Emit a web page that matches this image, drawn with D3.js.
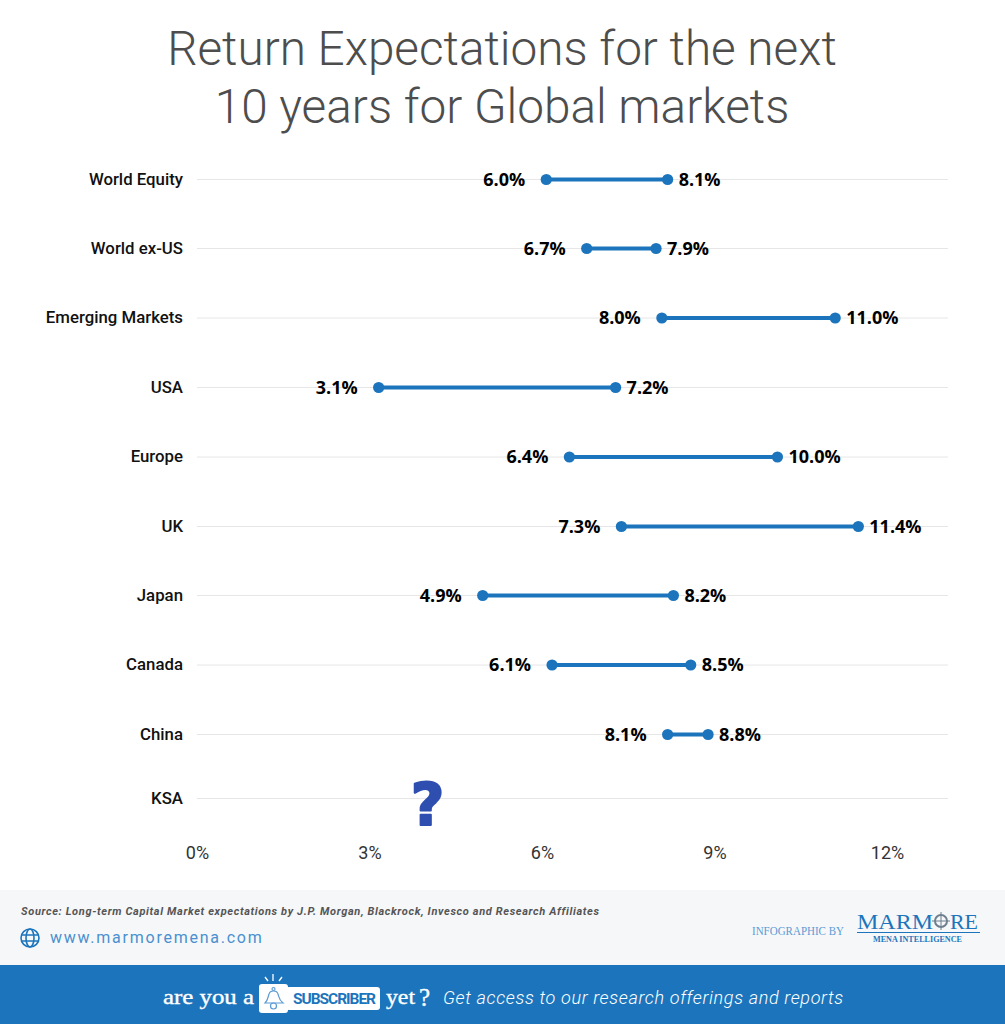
<!DOCTYPE html>
<html><head><meta charset="utf-8">
<script src="https://cdnjs.cloudflare.com/ajax/libs/d3/7.8.5/d3.min.js"></script>
<style>html,body{margin:0;padding:0;background:#fff}svg{display:block}</style>
</head><body><div id="c"></div>
<script>
const categories=["World Equity","World ex-US","Emerging Markets","USA","Europe","UK","Japan","Canada","China","KSA"];
const lowValues=[6.0,6.7,8.0,3.1,6.4,7.3,4.9,6.1,8.1,null];
const highValues=[8.1,7.9,11.0,7.2,10.0,11.4,8.2,8.5,8.8,null];
const rowCentres=[179.5,248.5,318,387.5,457,526.5,595.5,665,734.5,798.5];
const tickValues=[0,3,6,9,12];
const W=1005,H=1024,blue="#1c75bc";
const svg=d3.select("#c").append("svg").attr("width",W).attr("height",H).style("font-family","Roboto");
svg.append("rect").attr("width",W).attr("height",H).attr("fill","#fff");
const x=d3.scaleLinear().domain([0,12.96]).range([199.5,948.5]);
const y=d3.scaleOrdinal().domain(categories).range(rowCentres);
const tickX=d3.scaleLinear().domain([0,12]).range([197,887]);

svg.append("text").attr("text-anchor","middle").attr("fill","#4d4d4d").style("font-size","47.7px").style("font-weight",300)
 .selectAll("tspan").data(["Return Expectations for the next","10 years for Global markets"]).join("tspan")
 .attr("x",502).attr("y",(d,i)=>65+i*58).text(d=>d);

svg.append("g").selectAll("line").data(categories).join("line")
 .attr("x1",197).attr("x2",948).attr("y1",d=>y(d)).attr("y2",d=>y(d)).attr("stroke","#e6e6e6").attr("stroke-width",1);

svg.append("g").selectAll("text").data(categories).join("text")
 .attr("x",183).attr("y",d=>y(d)+5).attr("text-anchor","end").attr("fill","#111").style("font-size","16.8px").style("font-weight",500).text(d=>d);

const axis=d3.axisBottom(tickX).tickValues(tickValues).tickSize(0).tickFormat(d=>d+"%");
const ag=svg.append("g").attr("transform","translate(0,848)").call(axis);
ag.select(".domain").remove();
ag.selectAll("text").attr("fill","#333").style("font-size","18px").style("font-family","Roboto").attr("dy","0.71em").attr("y",-2);

const rows=categories.map((c,i)=>({c,lo:lowValues[i],hi:highValues[i]})).filter(d=>d.lo!==null);
const g=svg.append("g");
g.selectAll("line").data(rows).join("line").attr("x1",d=>x(d.lo)).attr("x2",d=>x(d.hi)).attr("y1",d=>y(d.c)).attr("y2",d=>y(d.c)).attr("stroke",blue).attr("stroke-width",4);
g.selectAll("circle.lo").data(rows).join("circle").attr("class","lo").attr("cx",d=>x(d.lo)).attr("cy",d=>y(d.c)).attr("r",5.6).attr("fill",blue);
g.selectAll("circle.hi").data(rows).join("circle").attr("class","hi").attr("cx",d=>x(d.hi)).attr("cy",d=>y(d.c)).attr("r",5.6).attr("fill",blue);
const lab=s=>s.attr("y",d=>y(d.c)+6).attr("fill","#000").style("font-family","'Open Sans'").style("font-size","18px").style("font-weight",700);
g.selectAll("text.lo").data(rows).join("text").attr("class","lo").attr("x",d=>x(d.lo)-21).attr("text-anchor","end").call(lab).text(d=>d.lo.toFixed(1)+"%");
g.selectAll("text.hi").data(rows).join("text").attr("class","hi").attr("x",d=>x(d.hi)+11).call(lab).text(d=>d.hi.toFixed(1)+"%");

svg.append("text").attr("x",x(4)-3).attr("y",825).attr("text-anchor","middle").attr("fill","#2f4fb0").attr("stroke","#2f4fb0").attr("stroke-width",2).attr("stroke-linejoin","round").style("font-family","'DejaVu Sans'").style("font-size","58px").style("font-weight",700).text("?");

svg.append("rect").attr("y",890).attr("width",W).attr("height",75).attr("fill","#f6f7f9");
svg.append("rect").attr("y",965).attr("width",W).attr("height",59).attr("fill",blue);
svg.append("text").attr("x",21).attr("y",915).attr("fill","#555").style("font-size","11px").style("font-weight",700).style("font-style","italic").style("letter-spacing","0.65px")
 .text("Source: Long-term Capital Market expectations by J.P. Morgan, Blackrock, Invesco and Research Affiliates");
const globe=svg.append("g").attr("transform","translate(30,938)").attr("fill","none").attr("stroke",blue).attr("stroke-width",1.6);
globe.append("circle").attr("r",9);
globe.append("ellipse").attr("rx",4).attr("ry",9);
globe.append("path").attr("d","M-8.5-3H8.5M-8.5 3H8.5");
svg.append("text").attr("x",50).attr("y",943).attr("fill","#4a90cf").style("font-size","16px").style("letter-spacing","1.75px").text("www.marmoremena.com");

svg.append("text").attr("x",752).attr("y",935).attr("fill","#5b9bd5").style("font-family","'Liberation Serif'").style("font-size","11.5px").attr("textLength",92).attr("lengthAdjust","spacingAndGlyphs").text("INFOGRAPHIC BY");
const logo=s=>s.attr("y",928.5).attr("fill",blue).style("font-family","'Liberation Serif'").style("font-size","22px").attr("lengthAdjust","spacingAndGlyphs");
svg.append("text").attr("x",857).call(logo).attr("textLength",76).text("MARM");
svg.append("text").attr("x",950).call(logo).attr("textLength",28).text("RE");
svg.append("circle").attr("cx",941).attr("cy",921).attr("r",6).attr("fill","none").attr("stroke","#6d7f8f").attr("stroke-width",2);
svg.append("path").attr("d","M941 912V930M932 921H950").attr("stroke","#6d7f8f").attr("stroke-width",1);
svg.append("line").attr("x1",857).attr("x2",980).attr("y1",932.5).attr("y2",932.5).attr("stroke",blue).attr("stroke-width",1);
svg.append("text").attr("x",873).attr("y",942).attr("fill",blue).style("font-family","'Liberation Serif'").style("font-size","8.5px").style("font-weight",700).attr("textLength",89).attr("lengthAdjust","spacingAndGlyphs").text("MENA INTELLIGENCE");

const serif=s=>s.attr("fill","#fff").attr("stroke","#fff").attr("stroke-width",0.35).style("font-family","'Liberation Serif'").style("font-weight",400).attr("lengthAdjust","spacingAndGlyphs");
svg.append("text").attr("x",163).attr("y",1004).call(serif).style("font-size","21px").attr("textLength",91).text("are you a");
svg.append("rect").attr("x",259).attr("y",984).attr("width",29).attr("height",29).attr("rx",3).attr("fill","#fff");
svg.append("rect").attr("x",286).attr("y",987).attr("width",94).attr("height",23).attr("rx",3).attr("fill","#fff");
const bell=svg.append("g").attr("fill","none").attr("stroke","#5b9bd5").attr("stroke-width",1.2);
bell.append("path").attr("d","M265 1003C268 1000 268 997 269 994C270 990 277 990 278 994C279 997 279 1000 283 1003Z");
bell.append("circle").attr("cx",273.5).attr("cy",1006).attr("r",3);
bell.append("circle").attr("cx",273.5).attr("cy",989).attr("r",1.5);
svg.append("path").attr("d","M265 977L268 981M273 974V981M282 977L279 981").attr("stroke","#fff").attr("stroke-width",1.3);
svg.append("text").attr("x",293).attr("y",1004).attr("fill",blue).style("font-size","15.5px").style("font-weight",700).attr("textLength",83).text("SUBSCRIBER");
svg.append("text").attr("x",386).attr("y",1004).call(serif).style("font-size","21px").attr("textLength",29).text("yet");
svg.append("text").attr("x",419).attr("y",1006).call(serif).style("font-size","25px").text("?");
svg.append("text").attr("x",443).attr("y",1004).attr("fill","#fff").style("font-size","18px").style("font-weight",300).style("font-style","italic").style("letter-spacing","0.65px").text("Get access to our research offerings and reports");
</script></body></html>
